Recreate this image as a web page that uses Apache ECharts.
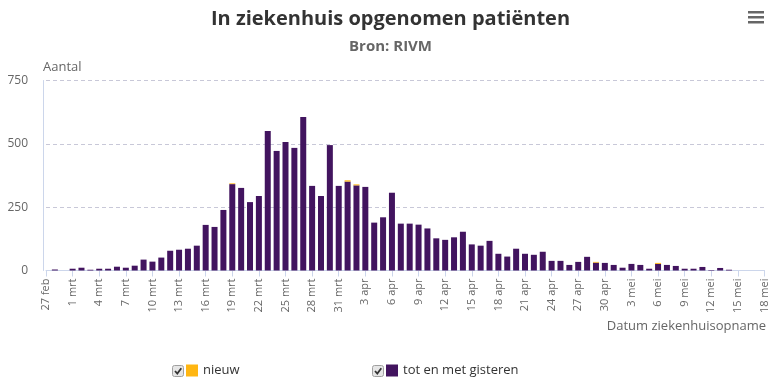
<!DOCTYPE html>
<html>
<head>
<meta charset="utf-8">
<script src="https://cdn.jsdelivr.net/npm/echarts@6/dist/echarts.min.js"></script>
<style>
html,body{margin:0;padding:0;background:#fff;}
#chart{width:781px;height:387px;}
</style>
</head>
<body>
<div id="chart"></div>
<script>
const categories = [
  "27 feb","28 feb","29 feb",
  "1 mrt","2 mrt","3 mrt","4 mrt","5 mrt","6 mrt","7 mrt","8 mrt","9 mrt","10 mrt",
  "11 mrt","12 mrt","13 mrt","14 mrt","15 mrt","16 mrt","17 mrt","18 mrt","19 mrt","20 mrt",
  "21 mrt","22 mrt","23 mrt","24 mrt","25 mrt","26 mrt","27 mrt","28 mrt","29 mrt","30 mrt","31 mrt",
  "1 apr","2 apr","3 apr","4 apr","5 apr","6 apr","7 apr","8 apr","9 apr","10 apr",
  "11 apr","12 apr","13 apr","14 apr","15 apr","16 apr","17 apr","18 apr","19 apr","20 apr",
  "21 apr","22 apr","23 apr","24 apr","25 apr","26 apr","27 apr","28 apr","29 apr","30 apr",
  "1 mei","2 mei","3 mei","4 mei","5 mei","6 mei","7 mei","8 mei","9 mei","10 mei",
  "11 mei","12 mei","13 mei","14 mei","15 mei","16 mei","17 mei","18 mei"
];

const totEnMetGisteren = [
  0, 4, 0,
  7, 11, 3, 7, 7, 15, 11, 19, 43, 35,
  51, 78, 82, 86, 98, 180, 172, 239, 341, 326,
  270, 294, 551, 472, 507, 484, 606, 334, 294, 495, 334,
  351, 336, 330, 189, 210, 307, 185, 185, 181, 166,
  127, 121, 131, 153, 103, 98, 117, 66, 55, 86,
  66, 62, 74, 38, 38, 22, 34, 54, 31, 30,
  22, 11, 26, 22, 7, 26, 22, 18, 7, 7,
  14, 2, 10, 3, 0, 0, 0, 0
];

const nieuw = [
  0, 0, 0,
  0, 0, 0, 0, 0, 0, 0, 0, 0, 0,
  0, 0, 0, 0, 0, 0, 0, 0, 3, 0,
  0, 0, 0, 0, 0, 0, 0, 0, 0, 0, 0,
  5, 4, 0, 0, 0, 0, 0, 0, 0, 0,
  0, 0, 0, 0, 0, 0, 0, 0, 0, 0,
  0, 0, 0, 0, 0, 0, 0, 0, 3, 0,
  0, 0, 0, 0, 0, 4, 0, 0, 0, 0,
  0, 0, 0, 0, 0, 0, 0, 0
];

const yTicks = { min: 0, max: 750, interval: 250 };

const FONT = '"Open Sans", sans-serif';
const chart = echarts.init(document.getElementById('chart'), null, { renderer: 'canvas' });

function checkbox(x, y) {
  return [
    { type: 'rect', shape: { x: x, y: y, width: 11, height: 11, r: 2 },
      style: { fill: '#e6e6e6', stroke: '#a0a0a0', lineWidth: 1 }, silent: true },
    { type: 'polyline', shape: { points: [[x + 2.5, y + 5.5], [x + 4.8, y + 8], [x + 8.8, y + 2.8]] },
      style: { stroke: '#333', lineWidth: 1.8, fill: null }, silent: true }
  ];
}

chart.setOption({
  animation: false,
  backgroundColor: '#ffffff',
  title: {
    text: 'In ziekenhuis opgenomen patiënten',
    subtext: 'Bron: RIVM',
    left: 'center',
    top: 4,
    itemGap: 10,
    textStyle: { fontFamily: FONT, fontSize: 20, fontWeight: 'bold', color: '#333333' },
    subtextStyle: { fontFamily: FONT, fontSize: 15, fontWeight: 'bold', color: '#666666' }
  },
  grid: { left: 46, right: 16.5, top: 80.5, bottom: 116.5, containLabel: false },
  legend: [
    { data: ['nieuw'], left: 186, top: 364, padding: 0, itemWidth: 12, itemHeight: 12, icon: 'rect', itemGap: 4,
      textStyle: { fontFamily: FONT, fontSize: 13, color: '#333333' }, selectedMode: false },
    { data: ['tot en met gisteren'], left: 386, top: 364, padding: 0, itemWidth: 12, itemHeight: 12, icon: 'rect',
      textStyle: { fontFamily: FONT, fontSize: 13, color: '#333333' }, selectedMode: false }
  ],
  xAxis: {
    type: 'category',
    data: categories,
    boundaryGap: false,
    axisLine: { show: true, lineStyle: { color: '#ccd6eb', width: 1 } },
    axisTick: { show: true, interval: 2, length: 6, lineStyle: { color: '#ccd6eb' } },
    axisLabel: { interval: 2, rotate: 90, margin: 8, fontFamily: FONT, fontSize: 11, color: '#666666' },
    splitLine: { show: false }
  },
  yAxis: {
    type: 'value',
    min: yTicks.min, max: yTicks.max, interval: yTicks.interval,
    offset: 3,
    name: 'Aantal',
    nameLocation: 'end',
    nameGap: 7,
    nameTextStyle: { fontFamily: FONT, fontSize: 13, color: '#666666', align: 'left' },
    axisLine: { show: true, lineStyle: { color: '#ccd6eb', width: 1 } },
    axisTick: { show: false },
    axisLabel: { margin: 15, fontFamily: FONT, fontSize: 12, color: '#666666' },
    splitLine: { show: true, lineStyle: { color: '#c8c8d8', type: [4, 3], width: 1 } }
  },
  series: [
    { name: 'tot en met gisteren', type: 'bar', stack: 'total', data: totEnMetGisteren,
      barWidth: 6, itemStyle: { color: '#42145f' } },
    { name: 'nieuw', type: 'bar', stack: 'total', data: nieuw,
      barWidth: 6, itemStyle: { color: '#ffb612' } }
  ],
  graphic: [
    { type: 'text', right: 15, top: 320,
      style: { text: 'Datum ziekenhuisopname', font: '13px ' + FONT, fill: '#666666' } },
    { type: 'rect', shape: { x: 748, y: 11, width: 16, height: 2.5 }, style: { fill: '#666666' } },
    { type: 'rect', shape: { x: 748, y: 16, width: 16, height: 2.5 }, style: { fill: '#666666' } },
    { type: 'rect', shape: { x: 748, y: 21, width: 16, height: 2.5 }, style: { fill: '#666666' } }
  ].concat(checkbox(172.5, 365.5)).concat(checkbox(372.5, 365.5))
});
</script>
</body>
</html>
